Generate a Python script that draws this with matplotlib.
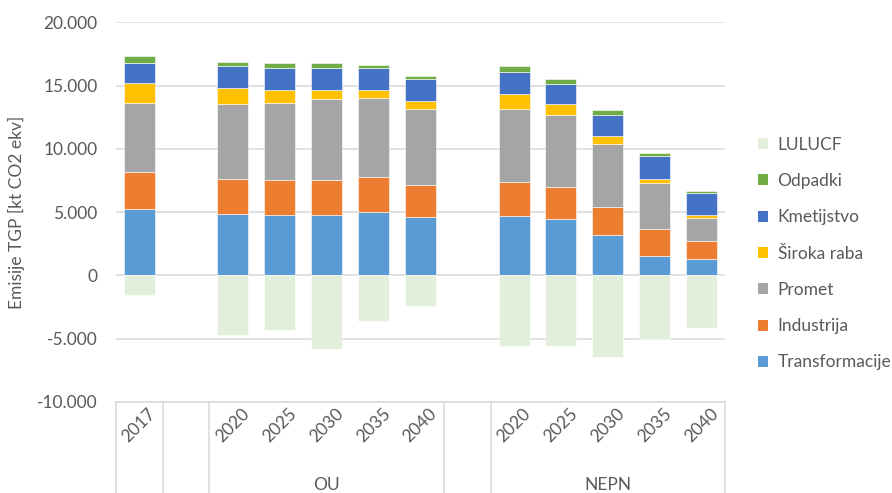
import matplotlib
matplotlib.use("Agg")
import matplotlib.pyplot as plt
from matplotlib.patches import Patch
from matplotlib.lines import Line2D
from matplotlib.ticker import FuncFormatter

plt.rcParams['font.family'] = ['Lato', 'DejaVu Sans']

# ---- data (kt CO2 ekv) ----
years = ["2017", "2020", "2025", "2030", "2035", "2040",
         "2020", "2025", "2030", "2035", "2040"]
positions = [0, 2, 3, 4, 5, 6, 8, 9, 10, 11, 12]
groups = ["OU", "NEPN"]
group_centers = [4, 10]
separators = [-0.5, 0.5, 1.5, 6.5, 7.5, 12.5]

transformacije = [5280, 4880, 4770, 4780, 5020, 4630, 4660, 4420, 3160, 1530, 1270]
industrija     = [2870, 2740, 2750, 2740, 2760, 2520, 2760, 2600, 2250, 2120, 1490]
promet         = [5500, 5890, 6130, 6410, 6230, 5990, 5740, 5650, 4970, 3630, 1780]
siroka_raba    = [1520, 1260, 1030,  710,  630,  630, 1150,  870,  660,  370,  240]
kmetijstvo     = [1600, 1760, 1700, 1735, 1735, 1735, 1735, 1610, 1640, 1760, 1735]
odpadki        = [ 530,  370,  426,  395,  290,  290,  530,  395,  360,  237,  134]
lulucf         = [-1550, -4680, -4350, -5820, -3580, -2450, -5580, -5580, -6420, -5050, -4180]

series = [
    ("Transformacije", transformacije, "#5B9BD5"),
    ("Industrija", industrija, "#ED7D31"),
    ("Promet", promet, "#A5A5A5"),
    ("Široka raba", siroka_raba, "#FFC000"),
    ("Kmetijstvo", kmetijstvo, "#4472C4"),
    ("Odpadki", odpadki, "#70AD47"),
]
lulucf_color = "#E2EFDA"

W, H = 892, 493
fig = plt.figure(figsize=(W / 100, H / 100), dpi=100)
ax = fig.add_axes([115.7 / W, 1 - 402 / H, (725 - 115.7) / W, (402 - 22.3) / H])

bw = 0.66
bottom = [0] * len(positions)
handles = []
for name, vals, col in series:
    ax.bar(positions, vals, bw, bottom=bottom, color=col, edgecolor="white",
           linewidth=0.4, zorder=3)
    bottom = [b + v for b, v in zip(bottom, vals)]
    handles.append(Patch(facecolor=col, edgecolor="none", label=name))
ax.bar(positions, lulucf, bw, color=lulucf_color, edgecolor="white",
       linewidth=0.4, zorder=3)
handles.append(Patch(facecolor=lulucf_color, edgecolor="none", label="LULUCF"))

ax.set_xlim(-0.5, 12.5)
ax.set_ylim(-10000, 20000)
ax.set_yticks(range(-10000, 20001, 5000))
ax.yaxis.set_major_formatter(FuncFormatter(lambda v, p: f"{int(v):,}".replace(",", ".")))
ax.tick_params(axis="y", length=0, labelsize=12.5, labelcolor="#595959", pad=13)
ax.set_xticks([])
ax.grid(axis="y", color="#D9D9D9", linewidth=1.1, zorder=0)
for s in ["top", "right", "left"]:
    ax.spines[s].set_visible(False)
ax.spines["bottom"].set_color("#D9D9D9")
ax.spines["bottom"].set_linewidth(1.1)

ax.set_ylabel("Emisije TGP [kt CO2 ekv]", fontsize=12.5, color="#595959", labelpad=9)

xt = ax.get_xaxis_transform()
ybot = -(H - 402) / (402 - 22.3)
for x in separators:
    ax.add_line(Line2D([x, x], [0, ybot], transform=xt, color="#D9D9D9",
                       linewidth=1.1, clip_on=False))
for x, lab in zip(positions, years):
    ax.text(x, -0.008, lab, transform=xt, rotation=45, ha="center", va="top",
            fontsize=12.5, color="#595959")
for x, lab in zip(group_centers, groups):
    ax.text(x, -(485 - 402) / (402 - 22.3), lab, transform=xt, ha="center",
            va="center", fontsize=12.5, color="#595959")

fig.legend(handles=handles[::-1], loc="upper left",
           bbox_to_anchor=(742 / W, 1 - 121 / H), frameon=False,
           fontsize=12.5, labelcolor="#595959", handlelength=0.6, handleheight=0.6,
           handletextpad=0.55, labelspacing=1.17)

fig.savefig("out.png", dpi=100)
